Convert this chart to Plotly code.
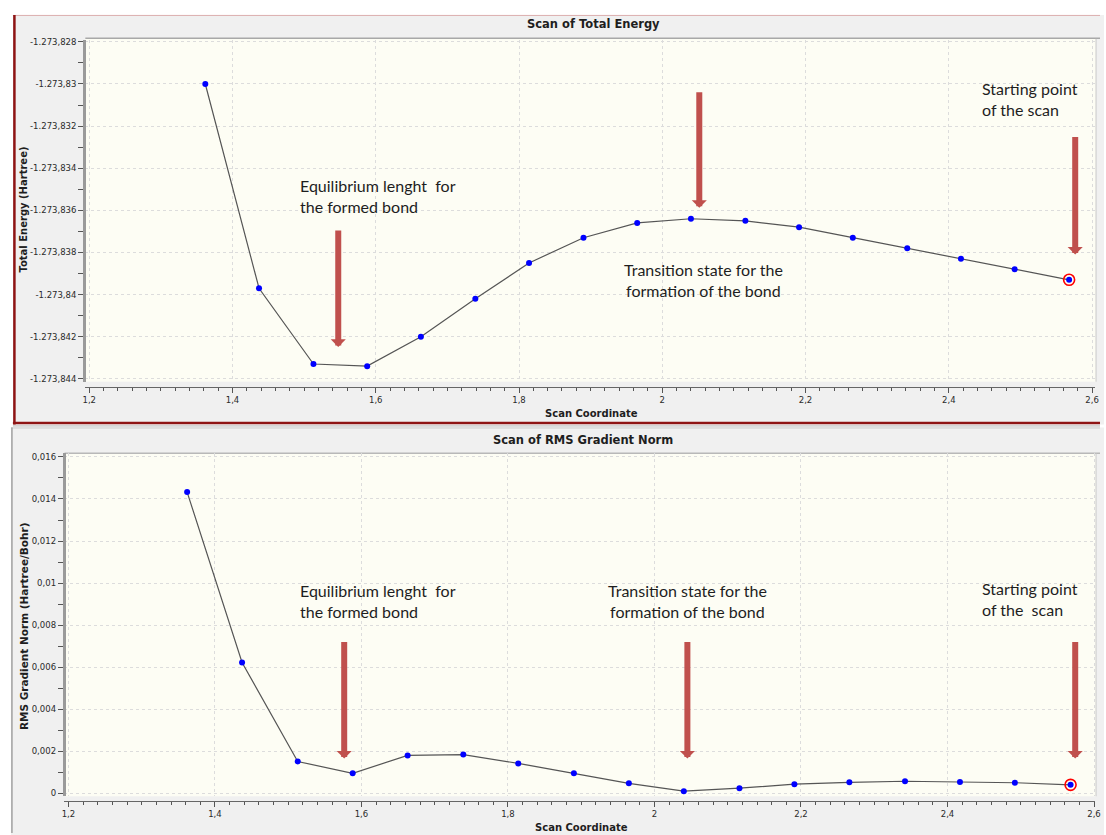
import plotly.graph_objects as go

# ---------------- data ----------------
scan_coord = [1.362, 1.437, 1.513, 1.588, 1.663, 1.739, 1.814, 1.890, 1.965,
              2.040, 2.116, 2.191, 2.266, 2.342, 2.417, 2.492, 2.568]
total_energy = [-1273.8300, -1273.8397, -1273.8433, -1273.8434, -1273.8420,
                -1273.8402, -1273.8385, -1273.8373, -1273.8366, -1273.8364,
                -1273.8365, -1273.8368, -1273.8373, -1273.8378, -1273.8383,
                -1273.8388, -1273.8393]
rms_gradient = [0.01433, 0.00622, 0.00151, 0.00095, 0.00180, 0.00184, 0.00142,
                0.00095, 0.00047, 0.00010, 0.00024, 0.00043, 0.00052, 0.00057,
                0.00054, 0.00050, 0.00040]

x_tickvals = [1.2, 1.4, 1.6, 1.8, 2.0, 2.2, 2.4, 2.6]
x_ticktext = ["1,2", "1,4", "1,6", "1,8", "2", "2,2", "2,4", "2,6"]
e_tickvals = [-1273.828, -1273.830, -1273.832, -1273.834, -1273.836,
              -1273.838, -1273.840, -1273.842, -1273.844]
e_ticktext = ["-1.273,828", "-1.273,83", "-1.273,832", "-1.273,834", "-1.273,836",
              "-1.273,838", "-1.273,84", "-1.273,842", "-1.273,844"]
g_tickvals = [0, 0.002, 0.004, 0.006, 0.008, 0.010, 0.012, 0.014, 0.016]
g_ticktext = ["0", "0,002", "0,004", "0,006", "0,008", "0,01", "0,012", "0,014", "0,016"]

# ---------------- layout helpers ----------------
W, H = 1106, 835
def fx(px): return px / W
def fy(py): return 1 - py / H

PANEL = "#f0f0f0"
CREAM = "#fdfdf4"
DARKRED = "#8e1414"
ARROW = "#c0504d"
TEXT = "#1e1e1e"

fig = go.Figure()

for xa, ya, yv in (("x", "y", total_energy), ("x2", "y2", rms_gradient)):
    fig.add_trace(go.Scatter(
        x=scan_coord, y=yv, xaxis=xa, yaxis=ya, mode="lines+markers",
        line=dict(color="#555555", width=1.2),
        marker=dict(color="#0000ff", size=6, line=dict(width=0)),
        hoverinfo="skip", showlegend=False))
    fig.add_trace(go.Scatter(
        x=scan_coord[-1:], y=yv[-1:], xaxis=xa, yaxis=ya, mode="markers",
        marker=dict(symbol="circle-open", color="#ff0000", size=11,
                    line=dict(width=1.6, color="#ff0000")),
        hoverinfo="skip", showlegend=False))

tickfont = dict(family="DejaVu Sans", size=8.5, color="#2a2a2a")
common_x = dict(tickvals=x_tickvals, ticktext=x_ticktext, ticks="outside",
                ticklen=5, tickcolor="#555555", tickfont=tickfont,
                showline=True, linecolor="#666666", linewidth=1,
                showgrid=True, gridcolor="#dcdcdc", griddash="dot", gridwidth=1,
                zeroline=False, anchor="free",
                minor=dict(dtick=0.02, tick0=1.2, ticks="outside", ticklen=3,
                           tickcolor="#555555", showgrid=False))
common_y = dict(ticks="outside", ticklen=5, tickcolor="#555555", tickfont=tickfont,
                showline=True, linecolor="#9a9a9a", linewidth=2.5,
                showgrid=True, gridcolor="#dcdcdc", griddash="dot", gridwidth=1,
                zeroline=False, anchor="free")

fig.update_layout(
    width=W, height=H, margin=dict(l=0, r=0, t=0, b=0),
    paper_bgcolor="white", plot_bgcolor="rgba(0,0,0,0)",
    xaxis=dict(domain=[fx(83), fx(1101)], range=[1.1945, 2.6042],
               position=fy(386), **common_x),
    yaxis=dict(domain=[fy(381), fy(37)], range=[-1273.84414, -1273.8279],
               position=fx(81.5), tickvals=e_tickvals, ticktext=e_ticktext,
               minor=dict(dtick=0.001, tick0=-1273.844, ticks="outside", ticklen=5,
                          tickcolor="#555555", showgrid=False),
               **common_y),
    xaxis2=dict(domain=[fx(62), fx(1101)], range=[1.1946, 2.6014],
                position=fy(803), **common_x),
    yaxis2=dict(domain=[fy(798), fy(453)], range=[-0.000142, 0.016175],
                position=fx(61), tickvals=g_tickvals, ticktext=g_ticktext,
                minor=dict(dtick=0.001, tick0=0, ticks="outside", ticklen=5,
                           tickcolor="#555555", showgrid=False),
                **common_y),
)

shapes = []
def rect(x0, y0, x1, y1, fill, line=None):
    shapes.append(dict(type="rect", xref="paper", yref="paper", layer="below",
                       x0=fx(x0), x1=fx(x1), y0=fy(y1), y1=fy(y0),
                       fillcolor=fill, line=dict(width=0) if line is None else line))
def hline(x0, x1, y, color, width):
    shapes.append(dict(type="line", xref="paper", yref="paper", layer="below",
                       x0=fx(x0), x1=fx(x1), y0=fy(y), y1=fy(y),
                       line=dict(color=color, width=width)))
def vline(x, y0, y1, color, width):
    shapes.append(dict(type="line", xref="paper", yref="paper", layer="below",
                       x0=fx(x), x1=fx(x), y0=fy(y0), y1=fy(y1),
                       line=dict(color=color, width=width)))

# panels
rect(10, 12, 1110, 424, PANEL)
rect(8, 427, 1110, 840, PANEL)
# plot areas
rect(83, 36, 1102, 381, CREAM)
rect(62, 453, 1102, 798, CREAM)
# frame lines
hline(83, 1106, 35.5, "#a8a8a8", 1.5)
hline(62, 1106, 453, "#b8b8b8", 1.5)
vline(1102, 36, 381, "#c8c8c8", 1)
vline(1102, 453, 798, "#c8c8c8", 1)
# top panel border (selected, dark red)
hline(10, 1106, 12.5, "#dcaeae", 1)
vline(11.5, 12, 424, DARKRED, 2.5)
hline(10, 1106, 422.5, DARKRED, 2.5)
hline(10, 1106, 425.5, "#b0b0b0", 1)
# bottom panel border
hline(8, 1106, 427.5, "#c8c8c8", 1)
vline(9, 427, 835, "#a0a0a0", 1.5)

fig.update_layout(shapes=shapes)

ann = []
def text(x, y, s, size=16, family="Lato", xanchor="left", align="left",
         color=TEXT, angle=0):
    ann.append(dict(xref="paper", yref="paper", x=fx(x), y=fy(y), text=s,
                    showarrow=False, xanchor=xanchor, yanchor="middle",
                    align=align, textangle=angle,
                    font=dict(family=family, size=size, color=color)))
def arrow(x, y_tail, y_tip):
    ann.append(dict(xref="paper", yref="paper", x=fx(x), y=fy(y_tip), text="",
                    showarrow=True, ax=0, ay=-(y_tip - y_tail), axref="pixel",
                    ayref="pixel", arrowhead=1, arrowsize=0.42, arrowwidth=6,
                    arrowcolor=ARROW, standoff=0, startstandoff=0))

# titles
text(595, 21, "<b>Scan of Total Energy</b>", 11.5, "DejaVu Sans", "center", "center")
text(585, 440, "<b>Scan of RMS Gradient Norm</b>", 11.5, "DejaVu Sans", "center", "center")
text(593, 413, "<b>Scan Coordinate</b>", 10, "DejaVu Sans", "center", "center")
text(583, 829, "<b>Scan Coordinate</b>", 10, "DejaVu Sans", "center", "center")
text(21, 208, "<b>Total Energy (Hartree)</b>", 10, "DejaVu Sans", "center", "center", angle=-90)
text(21, 627, "<b>RMS Gradient Norm (Hartree/Bohr)</b>", 10.5, "DejaVu Sans", "center", "center", angle=-90)

# annotations – top
text(297, 194, "Equilibrium lenght \u00a0for<br>the formed bond")
text(706, 279, "Transition state for the<br>formation of the bond", xanchor="center", align="center")
text(985, 97, "Starting point<br>of the scan")
# annotations – bottom
text(297, 602, "Equilibrium lenght \u00a0for<br>the formed bond")
text(690, 602, "Transition state for the<br>formation of the bond", xanchor="center", align="center")
text(985, 600, "Starting point<br>of the \u00a0scan")

# arrows
arrow(338, 228, 346)
arrow(702, 89, 206)
arrow(1081, 134, 253)
arrow(344, 642, 760)
arrow(690, 642, 760)
arrow(1081, 642, 760)

fig.update_layout(annotations=ann)
fig.write_html("out.html")
